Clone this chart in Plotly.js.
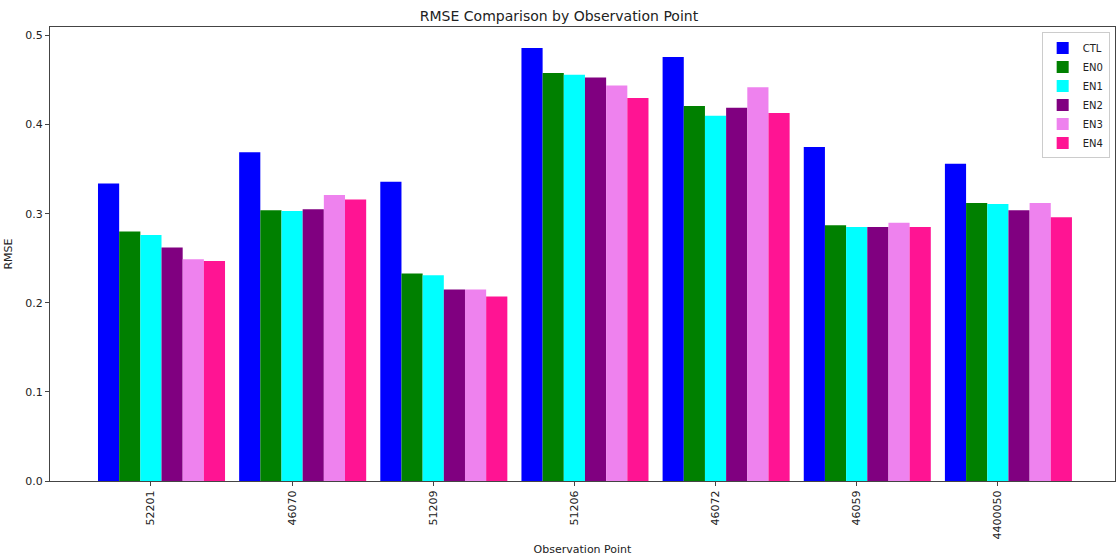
<!DOCTYPE html>
<html>
<head>
<meta charset="utf-8">
<script src="https://cdn.plot.ly/plotly-3.0.1.min.js"></script>
<style>html,body{margin:0;padding:0;background:#fff;}#chart{width:1118px;height:556px;}</style>
</head>
<body>
<div id="chart"></div>
<script>
const stations = ["52201", "46070", "51209", "51206", "46072", "46059", "4400050"];
const seriesNames = ["CTL", "EN0", "EN1", "EN2", "EN3", "EN4"];
const CTL = [0.334, 0.369, 0.336, 0.486, 0.476, 0.375, 0.356];
const EN0 = [0.280, 0.304, 0.233, 0.458, 0.421, 0.287, 0.312];
const EN1 = [0.276, 0.303, 0.231, 0.456, 0.410, 0.285, 0.311];
const EN2 = [0.262, 0.305, 0.215, 0.453, 0.419, 0.285, 0.304];
const EN3 = [0.249, 0.321, 0.215, 0.444, 0.442, 0.290, 0.312];
const EN4 = [0.247, 0.316, 0.207, 0.430, 0.413, 0.285, 0.296];
const colors = ["#0000ff", "#008000", "#00ffff", "#800080", "#ee82ee", "#ff1493"];

const allSeries = [CTL, EN0, EN1, EN2, EN3, EN4];
const barW = 0.15;
const traces = allSeries.map((vals, k) => ({
  type: "bar",
  name: seriesNames[k],
  x: stations.map((s, i) => i + k * barW),
  y: vals,
  width: barW,
  marker: {color: colors[k], line: {width: 0}},
  hoverinfo: "name+y"
}));

const font = "DejaVu Sans, sans-serif";
const layout = {
  width: 1118, height: 556,
  margin: {l: 50, r: 3, t: 27, b: 75},
  paper_bgcolor: "#fff", plot_bgcolor: "#fff",
  barmode: "overlay",
  title: {text: "RMSE Comparison by Observation Point", x: 0.5, xanchor: "center", y: 0.971, yanchor: "middle", font: {family: font, size: 14, color: "#222"}},
  xaxis: {
    range: [-0.415, 7.13],
    tickmode: "array",
    tickvals: stations.map((s, i) => i + 2 * barW),
    ticktext: stations,
    tickangle: -90,
    ticks: "outside", ticklen: 4, tickcolor: "#444",
    showline: true, linecolor: "#444", mirror: true, linewidth: 1,
    showgrid: false, zeroline: false,
    tickfont: {family: font, size: 11, color: "#222"},
    title: {text: "Observation Point", font: {family: font, size: 11, color: "#222"}, standoff: 12}
  },
  yaxis: {
    range: [0, 0.5096],
    tickvals: [0, 0.1, 0.2, 0.3, 0.4, 0.5],
    ticktext: ["0.0", "0.1", "0.2", "0.3", "0.4", "0.5"],
    ticks: "outside", ticklen: 4, tickcolor: "#444",
    showline: true, linecolor: "#444", mirror: true, linewidth: 1,
    showgrid: false, zeroline: false,
    tickfont: {family: font, size: 11, color: "#222"},
    title: {text: "RMSE", font: {family: font, size: 11, color: "#222"}, standoff: 10}
  },
  legend: {
    x: 0.995, xanchor: "right", y: 0.988, yanchor: "top",
    bgcolor: "rgba(255,255,255,0.8)", bordercolor: "#cccccc", borderwidth: 1,
    font: {family: font, size: 10, color: "#222"},
    tracegroupgap: 0, itemwidth: 30
  },
  showlegend: true
};

Plotly.newPlot("chart", traces, layout, {displayModeBar: false, staticPlot: true});
</script>
</body>
</html>
